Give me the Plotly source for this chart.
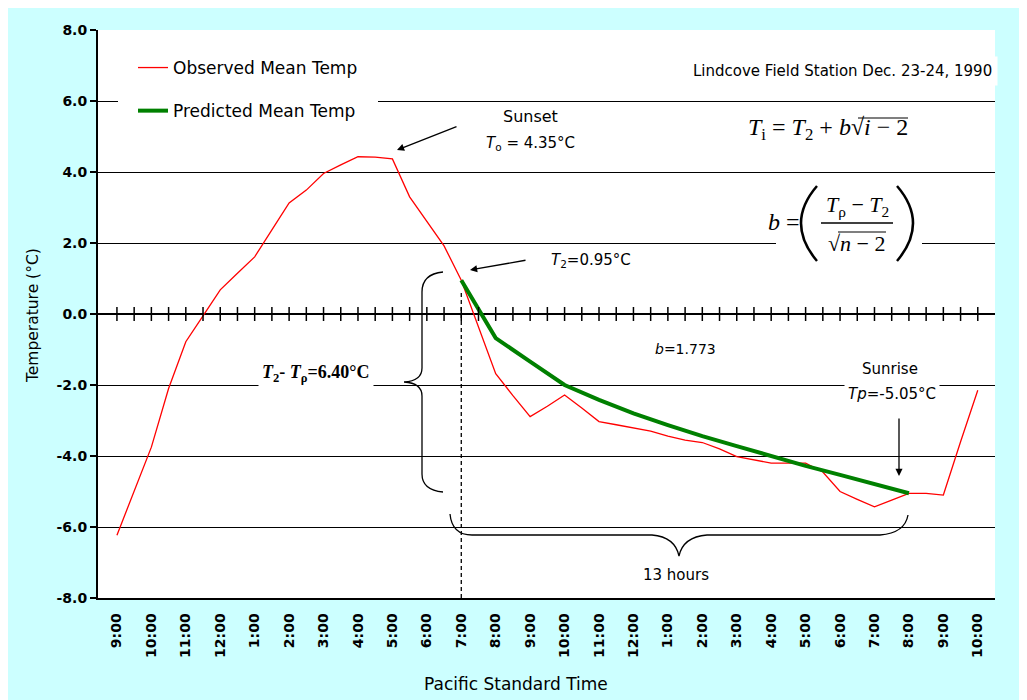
import plotly.graph_objects as go

# ---------------- data ----------------
hour_labels = ["9:00", "10:00", "11:00", "12:00", "1:00", "2:00", "3:00", "4:00",
               "5:00", "6:00", "7:00", "8:00", "9:00", "10:00", "11:00", "12:00",
               "1:00", "2:00", "3:00", "4:00", "5:00", "6:00", "7:00", "8:00",
               "9:00", "10:00"]

# observed mean temperature, every half hour from 9:00 am Dec 23 to 10:00 am Dec 24
observed_temp = [-6.23, -5.00, -3.75, -2.10, -0.78, -0.05, 0.68, 1.15, 1.61, 2.37,
                 3.13, 3.49, 3.96, 4.20, 4.43, 4.42, 4.37, 3.30, 2.60, 1.92,
                 0.95, -0.35, -1.68, -2.30, -2.89, -2.60, -2.28, -2.65, -3.03, -3.12,
                 -3.20, -3.30, -3.44, -3.55, -3.62, -3.80, -4.02, -4.12, -4.20, -4.20,
                 -4.20, -4.45, -5.00, -5.22, -5.43, -5.24, -5.05, -5.05, -5.10, -3.60,
                 -2.15]

# predicted mean temperature, hourly from 7:00 pm to sunrise (8:00 am)
predicted_temp = [0.95, -0.68, -1.34, -2.00, -2.42, -2.80, -3.13, -3.44, -3.72,
                  -4.00, -4.28, -4.53, -4.80, -5.05]
predicted_start_hour = 10      # hours after 9:00 am -> 7:00 pm

y_ticks = [-8, -6, -4, -2, 0, 2, 4, 6, 8]
y_tick_text = ["%.1f" % v for v in y_ticks]

obs_x = [i * 0.5 for i in range(len(observed_temp))]
pred_x = [predicted_start_hour + i for i in range(len(predicted_temp))]
label_x = list(range(len(hour_labels)))

# ---------------- geometry helpers (window pixel -> paper) ----------------
# page body keeps its default 8px margin, so the figure is 8px smaller
FIG_W, FIG_H = 1019, 692
OFF = 8
L, R, T, B = 98, 995, 30, 598          # plot area in window pixels
PW, PH = R - L, B - T


def px(x):
    return (x - L) / PW


def py(y):
    return (B - y) / PH


def path_px(cmds):
    out = []
    for c in cmds:
        if isinstance(c, str):
            out.append(c)
        else:
            out.append("%.5f,%.5f" % (px(c[0]), py(c[1])))
    return " ".join(out)


CYAN = "#ccffff"
SANS = "DejaVu Sans"
SERIF = "Liberation Serif"

fig = go.Figure()

fig.add_trace(go.Scatter(
    x=obs_x, y=observed_temp, mode="lines", name="Observed Mean Temp",
    line=dict(color="#ff0000", width=1.3), legendgroup="obs"))
fig.add_trace(go.Scatter(
    x=pred_x, y=predicted_temp, mode="lines", name="Predicted Mean Temp",
    line=dict(color="#008000", width=4), legendgroup="pred"))
# tick marks along the zero line (one per half hour)
fig.add_trace(go.Scatter(
    x=obs_x, y=[0] * len(obs_x), mode="markers", showlegend=False, hoverinfo="skip",
    marker=dict(symbol="line-ns", size=10, line=dict(color="black", width=1.5))))

shapes = []
# white legend background extension (covers 6.0 gridline)
shapes.append(dict(type="rect", xref="paper", yref="paper", layer="above",
                   x0=px(118), x1=px(378), y0=py(106), y1=py(96),
                   fillcolor="white", line=dict(width=0)))
# dashed vertical line at 7:00 pm
shapes.append(dict(type="line", xref="x", yref="y",
                   x0=obs_x[20], x1=obs_x[20], y0=-8, y1=0.62,
                   line=dict(color="black", width=1.3, dash="4px,3px")))
# white box behind the b formula (covers gridline)
shapes.append(dict(type="rect", xref="paper", yref="paper", layer="above",
                   x0=px(776), x1=px(922), y0=py(250), y1=py(236),
                   fillcolor="white", line=dict(width=0)))
# parentheses of the b formula
shapes.append(dict(type="path", xref="paper", yref="paper", layer="above",
                   path=path_px(["M", (817, 186), "Q", (785, 223), (817, 261)]),
                   line=dict(color="black", width=2.5)))
shapes.append(dict(type="path", xref="paper", yref="paper", layer="above",
                   path=path_px(["M", (897, 186), "Q", (929, 223), (897, 261)]),
                   line=dict(color="black", width=2.5)))
# fraction bar
shapes.append(dict(type="line", xref="paper", yref="paper", layer="above",
                   x0=px(821), x1=px(893), y0=py(223), y1=py(223),
                   line=dict(color="black", width=1.3)))
# radical overlines
shapes.append(dict(type="line", xref="paper", yref="paper", layer="above",
                   x0=px(858), x1=px(908), y0=py(118), y1=py(118),
                   line=dict(color="black", width=1.2)))
shapes.append(dict(type="line", xref="paper", yref="paper", layer="above",
                   x0=px(838), x1=px(886), y0=py(232), y1=py(232),
                   line=dict(color="black", width=1.2)))
# vertical brace (T2 - Tp)
shapes.append(dict(type="path", xref="paper", yref="paper", layer="above",
                   path=path_px(["M", (443, 272), "Q", (422, 274), (422, 292),
                                 "L", (422, 368), "Q", (422, 381), (404, 382),
                                 "Q", (422, 383), (422, 396), "L", (422, 474),
                                 "Q", (422, 490), (443, 492)]),
                   line=dict(color="black", width=1.3)))
# horizontal brace (13 hours)
shapes.append(dict(type="path", xref="paper", yref="paper", layer="above",
                   path=path_px(["M", (450, 514), "Q", (452, 535), (472, 535),
                                 "L", (652, 535), "Q", (675, 537), (679, 556),
                                 "Q", (683, 537), (707, 535), "L", (880, 535),
                                 "Q", (905, 533), (908, 515)]),
                   line=dict(color="black", width=1.3)))

ann = []


def text(x, y, s, size=15, family=SANS, bg=None, xanchor="center", pad=1, angle=0):
    d = dict(xref="paper", yref="paper", x=px(x), y=py(y), text=s, showarrow=False,
             xanchor=xanchor, yanchor="middle", textangle=angle,
             font=dict(family=family, size=size, color="black"), borderpad=pad)
    if bg:
        d["bgcolor"] = bg
    ann.append(d)


def arrow(head, tail):
    ann.append(dict(xref="paper", yref="paper", x=px(head[0]), y=py(head[1]),
                    ax=tail[0] - head[0], ay=tail[1] - head[1], text="",
                    showarrow=True, arrowhead=2, arrowsize=1.1, arrowwidth=1.3,
                    arrowcolor="black", standoff=0))


text(998, 71, "Lindcove Field Station Dec. 23-24, 1990", size=15, bg="white",
     xanchor="right", pad=5)
text(530, 117, "Sunset", size=16)
text(530, 143, "<i>T</i><sub>o</sub> = 4.35°C", size=15)
arrow((397, 150), (458, 126))
text(828, 129, "<i>T</i><sub>i</sub> = <i>T</i><sub>2</sub> + <i>b</i>√<i>i</i> − 2",
     size=24, family=SERIF)
text(784, 222, "<i>b</i> =", size=24, family=SERIF)
text(857, 206, "<i>T</i><sub>ρ</sub> − <i>T</i><sub>2</sub>", size=22, family=SERIF)
text(857, 243, "√<i>n</i> − 2", size=22, family=SERIF)
text(591, 260, "<i>T</i><sub>2</sub>=0.95°C", size=15)
arrow((470, 270), (527, 260))
text(685, 349, "<i>b</i>=1.773", size=14)
text(890, 369, "Sunrise", size=15, bg="white", pad=3)
text(892, 394, "<i>Tp</i>=-5.05°C", size=15, bg="white", pad=3)
arrow((899, 476), (899, 417))
text(316, 373, "<b><i>T</i><sub>2</sub>- <i>T</i><sub>ρ</sub>=6.40°C</b>", size=18,
     family=SERIF, bg="white", pad=3)
text(676, 575, "13 hours", size=15)
text(516, 684, "Pacific Standard Time", size=17)
text(33, 316, "Temperature (°C)", size=15.5, angle=-90)

fig.update_layout(
    width=FIG_W, height=FIG_H,
    margin=dict(l=L - OFF, r=FIG_W + OFF - R, t=T - OFF, b=FIG_H + OFF - B, pad=0),
    paper_bgcolor=CYAN, plot_bgcolor="white",
    showlegend=True,
    legend=dict(x=px(133), y=py(50), xanchor="left", yanchor="top",
                bgcolor="white", borderwidth=0, traceorder="grouped",
                tracegroupgap=18, font=dict(family=SANS, size=17, color="black")),
    shapes=shapes, annotations=ann,
    xaxis=dict(range=[-0.55, 25.5], tickmode="array", tickvals=label_x,
               ticktext=hour_labels, tickangle=-90, showgrid=False, zeroline=False,
               showline=True, linecolor="black", linewidth=1.5, ticks="",
               tickfont=dict(family=SANS, size=14, color="black", weight="bold"),
               ticklabelstandoff=8),
    yaxis=dict(range=[-8, 8], tickmode="array", tickvals=y_ticks, ticktext=y_tick_text,
               showgrid=True, gridcolor="black", gridwidth=1.3,
               zeroline=True, zerolinecolor="black", zerolinewidth=1.5,
               showline=True, linecolor="black", linewidth=2,
               ticks="outside", ticklen=6, tickcolor="black", tickwidth=1.5,
               tickfont=dict(family=SANS, size=14, color="black", weight="bold")),
)

fig.write_html("out.html")
